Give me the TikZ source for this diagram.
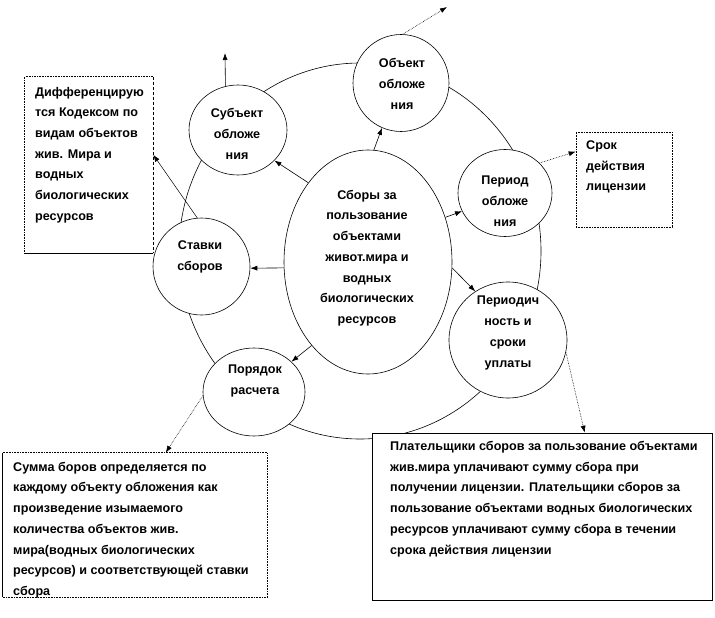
\documentclass[tikz,border=0pt]{standalone}
\usepackage{fontspec}
\setmainfont{Liberation Sans}
\usetikzlibrary{arrows.meta,shapes.geometric}
\tikzset{
  ln/.style={line width=0.6pt},
  circ/.style={ellipse, draw, fill=white, line width=0.6pt, inner sep=0pt},
  box/.style={rectangle, fill=white, inner sep=0pt, line width=0.6pt},
  txt/.style={font=\fontsize{12.6}{20.7}\selectfont\bfseries, align=center, inner sep=0pt},
  boxtxt/.style={txt, align=left, anchor=west},
  arr/.style={line width=0.6pt, -{Latex[length=7pt,width=5pt]}},
  darr/.style={arr, densely dotted},
}
\begin{document}
\begin{tikzpicture}[x=1pt,y=-1pt]
\useasboundingbox[fill=white] (0,0) rectangle (715,618);
% outer ring
\node[ellipse, draw, line width=0.6pt, inner sep=0pt, minimum width=362pt, minimum height=376pt] (ring) at (360,251) {};
% circles
\node[circ, minimum width=98pt, minimum height=90pt] (subj) at (238,130) {};
\node[circ, minimum width=96pt, minimum height=97pt] (obj) at (401,83) {};
\node[circ, minimum width=94pt, minimum height=87pt] (per) at (505,193) {};
\node[circ, minimum width=118pt, minimum height=116pt] (pers) at (508,340) {};
\node[circ, minimum width=97pt, minimum height=97pt] (stav) at (201.5,266.5) {};
\node[circ, minimum width=102pt, minimum height=88pt] (por) at (254,392) {};
\node[circ, minimum width=168pt, minimum height=224pt] (ctr) at (368,262) {};
% boxes
\node[box, minimum width=128pt, minimum height=176pt] (lb) at (89,165) {};
\draw[ln, densely dotted] (lb.south west) -- (lb.north west) -- (lb.north east);
\draw[ln, densely dashed] (lb.north east) -- (lb.south east);
\draw[ln] (lb.south east) -- (lb.south west);
\node[box, draw, densely dotted, minimum width=96pt, minimum height=95pt] (srok) at (624,179.5) {};
\node[box, minimum width=264pt, minimum height=144pt] (bl) at (135,525) {};
\draw[ln, densely dotted] (bl.south west) -- (bl.south east) -- (bl.north east) -- (bl.north west);
\draw[ln] (bl.north west) -- (bl.south west);
\node[box, draw, minimum width=340pt, minimum height=167pt] (br) at (542,516.5) {};
% free ends
\coordinate (sU) at (225,53);
\coordinate (oU) at (447,7);
% arrows from centre
\draw[arr] (ctr.127) -- (subj.-40);
\draw[arr] (ctr.87) -- (obj.-113);
\draw[arr] (ctr.30) -- (per.-157);
\draw[arr] (ctr.-4) -- (pers.124);
\draw[arr] (ctr.-176) -- (stav.-2);
\draw[arr] (ctr.-124) -- (por.39);
% outward arrows
\draw[arr] (subj.106) -- (sU);
\draw[darr] (obj.88) -- (oU);
\draw[darr] (per.41) -- (srok.150);
\draw[arr, line width=0.5pt] (stav.95) -- (lb.9);
\draw[darr] (por.-176) -- (bl.67);
\draw[darr] (pers.-12) -- (br.63);
% texts
\node[txt] (tctr) at (367,258) {Сборы за\\пользование\\объектами\\живот.мира и\\водных\\биологических\\ресурсов};
\node[txt] (tsubj) at (237,134) {Субъект\\обложе\\ния};
\node[txt] (tobj) at (402,84) {Объект\\обложе\\ния};
\node[txt] (tper) at (505,201) {Период\\обложе\\ния};
\node[txt] (tpers) at (508,333) {Периодич\\ность и\\сроки\\уплаты};
\node[txt] (tstav) at (200,257) {Ставки\\сборов};
\node[txt] (tpor) at (255,381) {Порядок\\расчета};
\node[boxtxt] (tlb) at (35,155) {Дифференцирую\\тся Кодексом по\\видам объектов\\жив. Мира и\\водных\\биологических\\ресурсов};
\node[boxtxt] (tsrok) at (586,167) {Срок\\действия\\лицензии};
\node[boxtxt] (tbl) at (13,530) {Сумма боров определяется по\\каждому объекту обложения как\\произведение изымаемого\\количества объектов жив.\\мира(водных биологических\\ресурсов) и соответствующей ставки\\сбора};
\node[boxtxt] (tbr) at (390,499) {Плательщики сборов за пользование объектами\\жив.мира уплачивают сумму сбора при\\получении лицензии. Плательщики сборов за\\пользование объектами водных биологических\\ресурсов уплачивают сумму сбора в течении\\срока действия лицензии};
\end{tikzpicture}
\end{document}
